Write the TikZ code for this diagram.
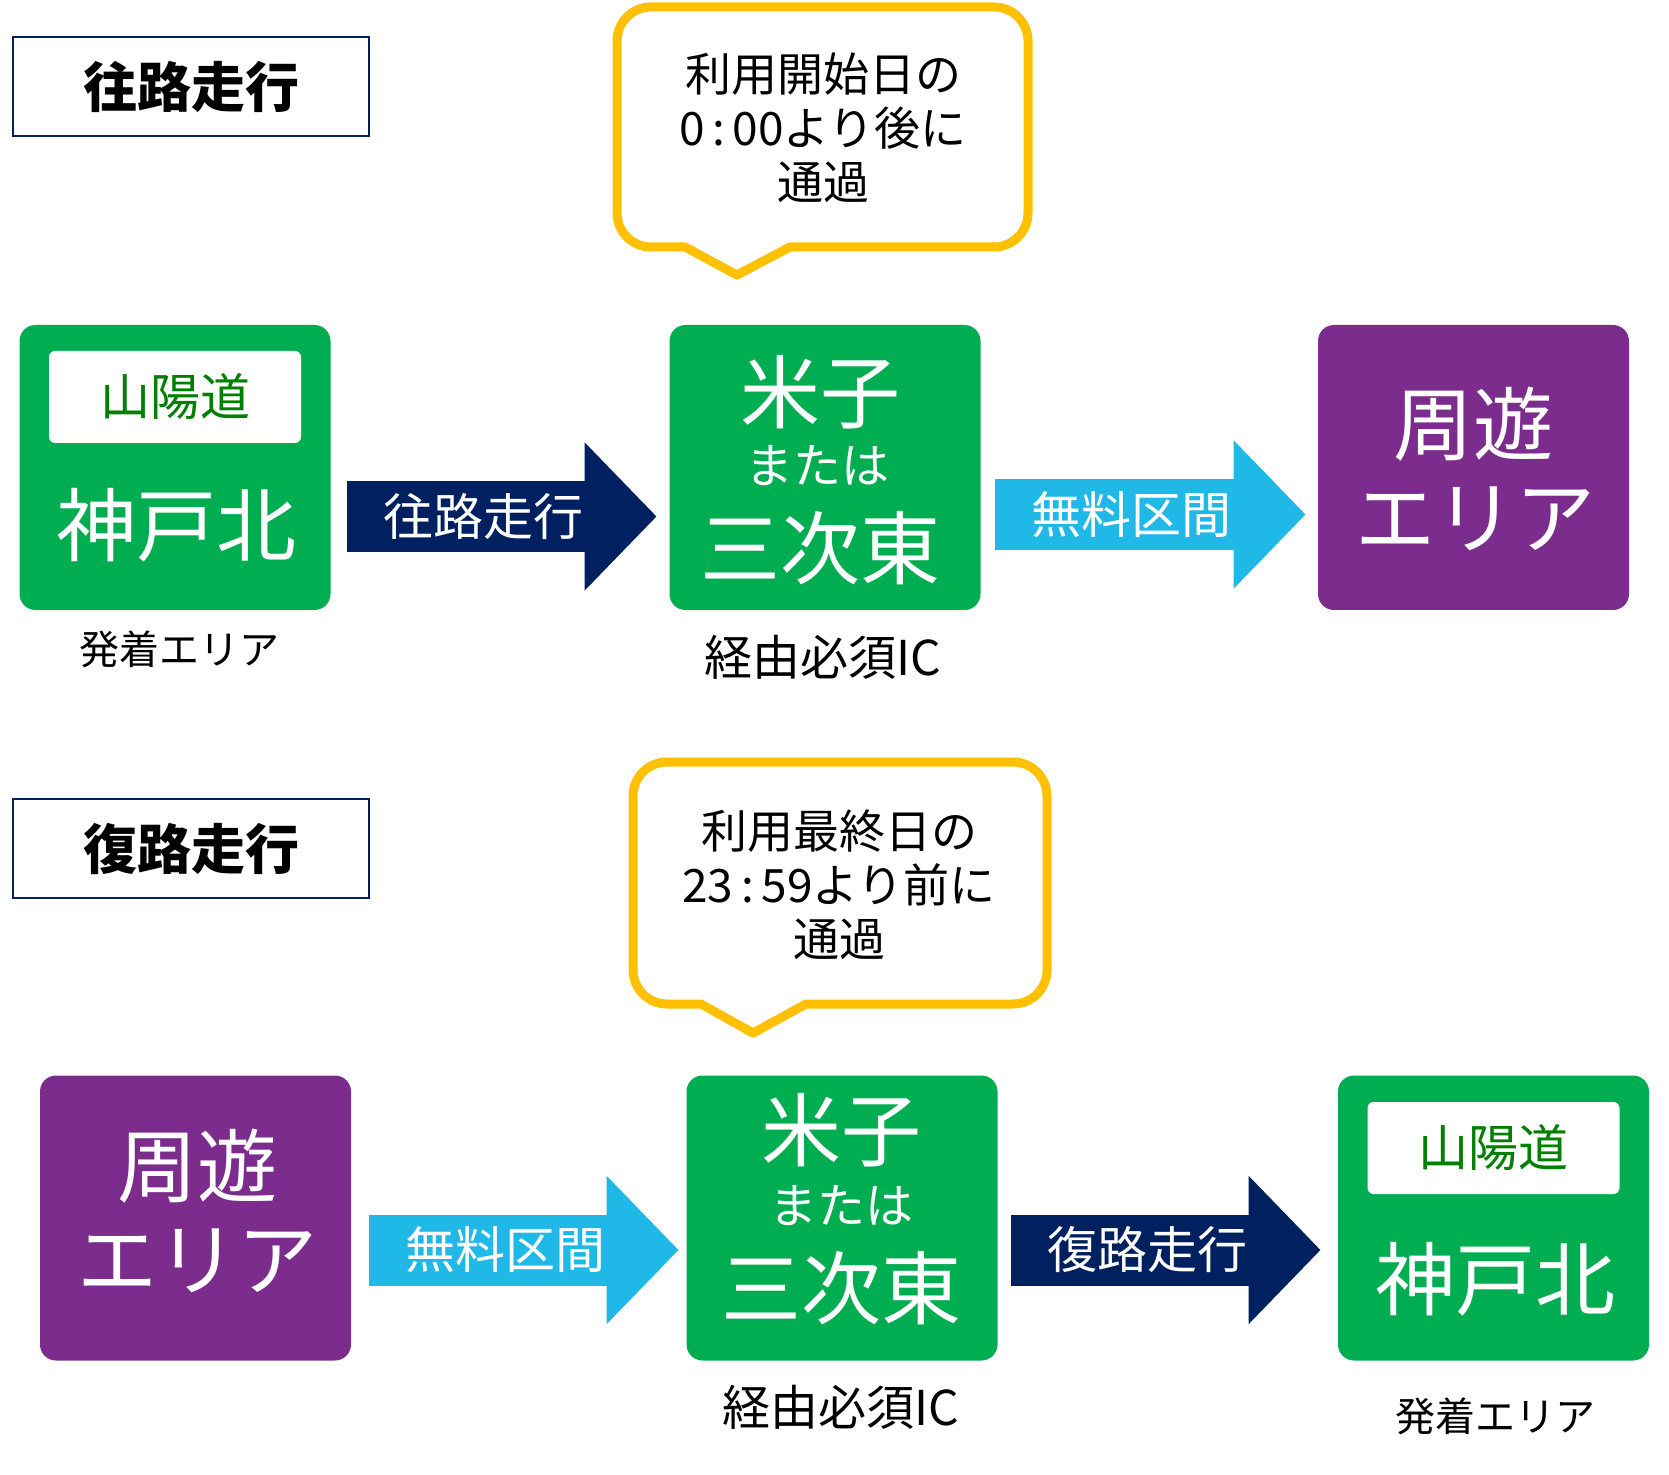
\documentclass[tikz,border=0pt]{standalone}
\usepackage{fontspec}
\setmainfont{Noto Sans CJK JP}
\usetikzlibrary{arrows.meta}

\definecolor{navy}{RGB}{0,32,96}
\definecolor{sky}{RGB}{32,184,230}
\definecolor{icgreen}{RGB}{0,173,80}
\definecolor{areapurple}{RGB}{123,44,140}
\definecolor{gold}{RGB}{255,192,0}
\definecolor{roadgreen}{RGB}{0,128,0}

\begin{document}
\begin{tikzpicture}[x=0.5pt,y=-0.5pt]
    \useasboundingbox (0,0) rectangle (1669,1475);

    \tikzstyle{hdr}=[draw=navy,line width=1.4pt,minimum width=178pt,minimum height=49.5pt,font=\fontsize{27}{30}\selectfont\bfseries]
    \tikzstyle{grn}=[fill=icgreen,rounded corners=8pt,minimum width=155.5pt,minimum height=142.5pt,inner sep=0pt]
    \tikzstyle{prp}=[fill=areapurple,rounded corners=8pt,minimum width=155.5pt,minimum height=142.5pt,inner sep=0pt]
    \tikzstyle{road}=[fill=white,rounded corners=3pt,minimum width=126pt,minimum height=46pt,inner sep=0pt,text=roadgreen,font=\fontsize{25}{28}\selectfont]
    \tikzstyle{bigtxt}=[text=white,inner sep=0pt,font=\fontsize{40}{44}\selectfont]
    \tikzstyle{midtxt}=[text=white,inner sep=0pt,font=\fontsize{24}{26}\selectfont]
    \tikzstyle{subtxt}=[inner sep=0pt,font=\fontsize{20}{22}\selectfont]
    \tikzstyle{ictxt}=[inner sep=0pt,font=\fontsize{24}{26}\selectfont]
    \tikzstyle{note}=[align=center,inner sep=0pt,font=\fontsize{23}{27}\selectfont]
    \tikzstyle{balloon}=[draw=gold,line width=4.5pt,line join=round]
    \tikzstyle{arrtxt}=[text=white,inner sep=0pt,font=\fontsize{25}{28}\selectfont]
    \tikzstyle{navyarr}=[draw=navy,line width=35.5pt,-{Triangle[length=36pt,width=72pt]}]
    \tikzstyle{skyarr}=[draw=sky,line width=35.5pt,-{Triangle[length=36pt,width=72pt]}]

    % outward trip
    \node[hdr] (hdr1) at (191,86.5) {往路走行};

    \draw[balloon] (617,247) [rounded corners=17pt] -- (617,7) -- (1028,7) -- (1028,247) [sharp corners] -- (790,247) -- (737,275) -- (685,247) [rounded corners=17pt] -- cycle;
    \node[note] (note1) at (823,128) {利用開始日の\\0\,:\,00より後に\\通過};

    \node[grn] (kobe1) at (175,467.5) {};
    \node[road] (road1) at (175,397) {山陽道};
    \node[bigtxt] (kobe1t) at (176,525) {神戸北};
    \node[subtxt] (kobe1c) at (179,649) {発着エリア};

    \node[grn] (ic1) at (825,467.5) {};
    \node[bigtxt] (yonago1) at (820,392) {米子};
    \node[midtxt] (or1) at (817,466) {または};
    \node[bigtxt] (miyoshi1) at (820,548) {三次東};
    \node[ictxt] (ic1c) at (823,657) {経由必須IC};

    \node[prp] (area1) at (1473.5,467.5) {};
    \node[bigtxt] (shuyu1) at (1473,424) {周遊};
    \node[bigtxt] (erea1) at (1475,519) {エリア};

    \draw[navyarr] ([xshift=8.25pt,yshift=-24.5pt]kobe1.east) -- ([xshift=-6.25pt,yshift=-24.5pt]ic1.west) node[arrtxt,pos=0.44] (go1) {往路走行};
    \draw[skyarr] ([xshift=7.25pt,yshift=-23.5pt]ic1.east) -- ([xshift=-6pt,yshift=-23.5pt]area1.west) node[arrtxt,pos=0.44] (free1) {無料区間};

    % return trip
    \node[hdr] (hdr2) at (191,848.5) {復路走行};

    \draw[balloon] (633,1004) [rounded corners=17pt] -- (633,762) -- (1047,762) -- (1047,1004) [sharp corners] -- (806,1004) -- (753,1033) -- (701,1004) [rounded corners=17pt] -- cycle;
    \node[note] (note2) at (839,885) {利用最終日の\\23\,:\,59より前に\\通過};

    \node[prp] (area2) at (195.5,1218) {};
    \node[bigtxt] (shuyu2) at (197,1166) {周遊};
    \node[bigtxt] (erea2) at (197,1261) {エリア};

    \node[grn] (ic2) at (842,1218) {};
    \node[bigtxt] (yonago2) at (841,1130) {米子};
    \node[midtxt] (or2) at (841,1206) {または};
    \node[bigtxt] (miyoshi2) at (841,1288) {三次東};
    \node[ictxt] (ic2c) at (841,1407) {経由必須IC};

    \node[grn] (kobe2) at (1493.5,1218) {};
    \node[road] (road2) at (1493.5,1148) {山陽道};
    \node[bigtxt] (kobe2t) at (1495,1279) {神戸北};
    \node[subtxt] (kobe2c) at (1495,1416) {発着エリア};

    \draw[skyarr] ([xshift=9pt,yshift=-16pt]area2.east) -- ([xshift=-3.75pt,yshift=-16pt]ic2.west) node[arrtxt,pos=0.44] (free2) {無料区間};
    \draw[navyarr] ([xshift=6.75pt,yshift=-16pt]ic2.east) -- ([xshift=-8.5pt,yshift=-16pt]kobe2.west) node[arrtxt,pos=0.44] (back2) {復路走行};

\end{tikzpicture}
\end{document}
